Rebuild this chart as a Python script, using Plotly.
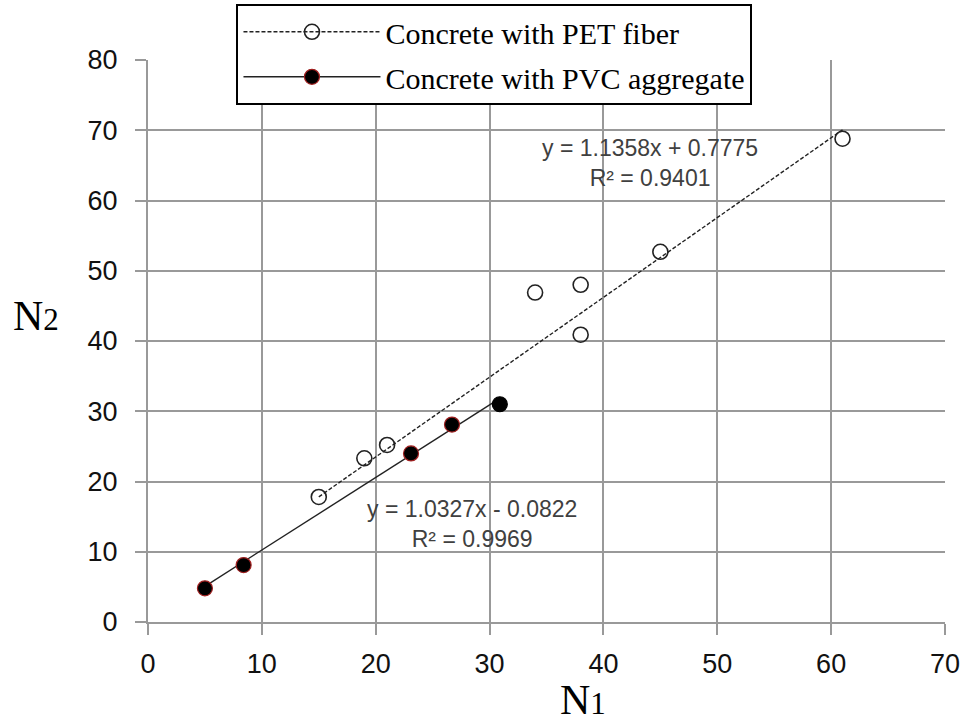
import plotly.graph_objects as go

# ---- data ----
pet_n1 = [15, 19, 21, 34, 38, 38, 45, 61]
pet_n2 = [17.8, 23.3, 25.2, 46.9, 48.0, 40.9, 52.7, 68.8]
pvc_n1 = [5, 8.4, 23.1, 26.7, 30.9]
pvc_n2 = [4.8, 8.1, 24.0, 28.1, 31.0]

pet_slope, pet_intercept, pet_r2 = 1.1358, 0.7775, 0.9401
pvc_slope, pvc_intercept, pvc_r2 = 1.0327, -0.0822, 0.9969

pet_label = "Concrete with PET fiber"
pvc_label = "Concrete with PVC aggregate"

x_ticks = [0, 10, 20, 30, 40, 50, 60, 70]
y_ticks = [0, 10, 20, 30, 40, 50, 60, 70, 80]

# trend line extents (from data range)
pet_fit_x = [min(pet_n1), max(pet_n1)]
pet_fit_y = [pet_slope * v + pet_intercept for v in pet_fit_x]
pvc_fit_x = [min(pvc_n1), max(pvc_n1)]
pvc_fit_y = [pvc_slope * v + pvc_intercept for v in pvc_fit_x]

GRID = "#999999"
fig = go.Figure()

# trend lines
fig.add_trace(go.Scatter(x=pet_fit_x, y=pet_fit_y, mode="lines",
                         line=dict(color="#222222", width=1.4, dash="4px,2px"),
                         showlegend=False, hoverinfo="skip"))
fig.add_trace(go.Scatter(x=pvc_fit_x, y=pvc_fit_y, mode="lines",
                         line=dict(color="#222222", width=1.4),
                         showlegend=False, hoverinfo="skip"))

# data points
fig.add_trace(go.Scatter(x=pet_n1, y=pet_n2, mode="markers", showlegend=False,
                         marker=dict(symbol="circle-open", size=15, color="#222222",
                                     line=dict(width=1.6, color="#222222"))))
pvc_line_colors = ["#a02020"] * (len(pvc_n1) - 1) + ["#000000"]
fig.add_trace(go.Scatter(x=pvc_n1, y=pvc_n2, mode="markers", showlegend=False,
                         marker=dict(symbol="circle", size=15, color="#000000",
                                     line=dict(width=1.2, color=pvc_line_colors))))

# legend entries
fig.add_trace(go.Scatter(x=[None], y=[None], mode="lines+markers", name=pet_label,
                         legendgroup="pet",
                         line=dict(color="#222222", width=1.4, dash="4px,2px"),
                         marker=dict(symbol="circle-open", size=15, color="#222222",
                                     line=dict(width=1.6, color="#222222"))))
fig.add_trace(go.Scatter(x=[None], y=[None], mode="lines+markers", name=pvc_label,
                         legendgroup="pvc",
                         line=dict(color="#222222", width=1.4),
                         marker=dict(symbol="circle", size=15, color="#000000",
                                     line=dict(width=1.2, color="#a02020"))))

fig.update_layout(
    width=962, height=722,
    margin=dict(l=147.5, r=17, t=60, b=99.5, autoexpand=False),
    paper_bgcolor="white", plot_bgcolor="white",
    showlegend=True,
    legend=dict(x=0.111, y=1.1, xanchor="left", yanchor="top",
                bgcolor="white", bordercolor="black", borderwidth=2,
                font=dict(family="Liberation Serif", size=30, color="black"),
                itemwidth=137, tracegroupgap=3, traceorder="grouped"),
    font=dict(family="Liberation Sans", color="#111111"),
)

axis_common = dict(showgrid=True, gridcolor=GRID, gridwidth=2,
                   showline=True, linecolor=GRID, linewidth=2,
                   ticks="outside", tickcolor=GRID, tickwidth=2, ticklen=11,
                   zeroline=False, automargin=False,
                   tickfont=dict(family="Liberation Sans", size=27, color="#111111"))
fig.update_xaxes(range=[0, 70], tickvals=x_ticks, ticktext=[str(v) for v in x_ticks],
                 ticklabelstandoff=6, **axis_common)
fig.update_yaxes(range=[0, 80], tickvals=y_ticks, ticktext=[str(v) for v in y_ticks],
                 ticklabelstandoff=12, **axis_common)

# axis titles
fig.add_annotation(xref="paper", yref="paper", x=-0.14, y=0.545, showarrow=False,
                   text="N<span style='font-size:31px'>2</span>",
                   font=dict(family="Liberation Serif", size=42, color="black"),
                   xanchor="center", yanchor="middle")
fig.add_annotation(xref="paper", yref="paper", x=0.546, y=-0.139, showarrow=False,
                   text="N<span style='font-size:31px'>1</span>",
                   font=dict(family="Liberation Serif", size=42, color="black"),
                   xanchor="center", yanchor="middle")

# trend equations
fig.add_annotation(x=44.1, y=65.4, showarrow=False, align="center",
                   text=f"y = {pet_slope}x + {pet_intercept}<br>R² = {pet_r2}",
                   font=dict(family="Liberation Sans", size=23, color="#404040"))
fig.add_annotation(x=28.5, y=13.9, showarrow=False, align="center",
                   text=f"y = {pvc_slope}x - {abs(pvc_intercept)}<br>R² = {pvc_r2}",
                   font=dict(family="Liberation Sans", size=23, color="#404040"))

fig.write_html("out.html", config={"displayModeBar": False},
               post_script="document.body.style.margin='0';document.body.style.overflow='hidden';")
